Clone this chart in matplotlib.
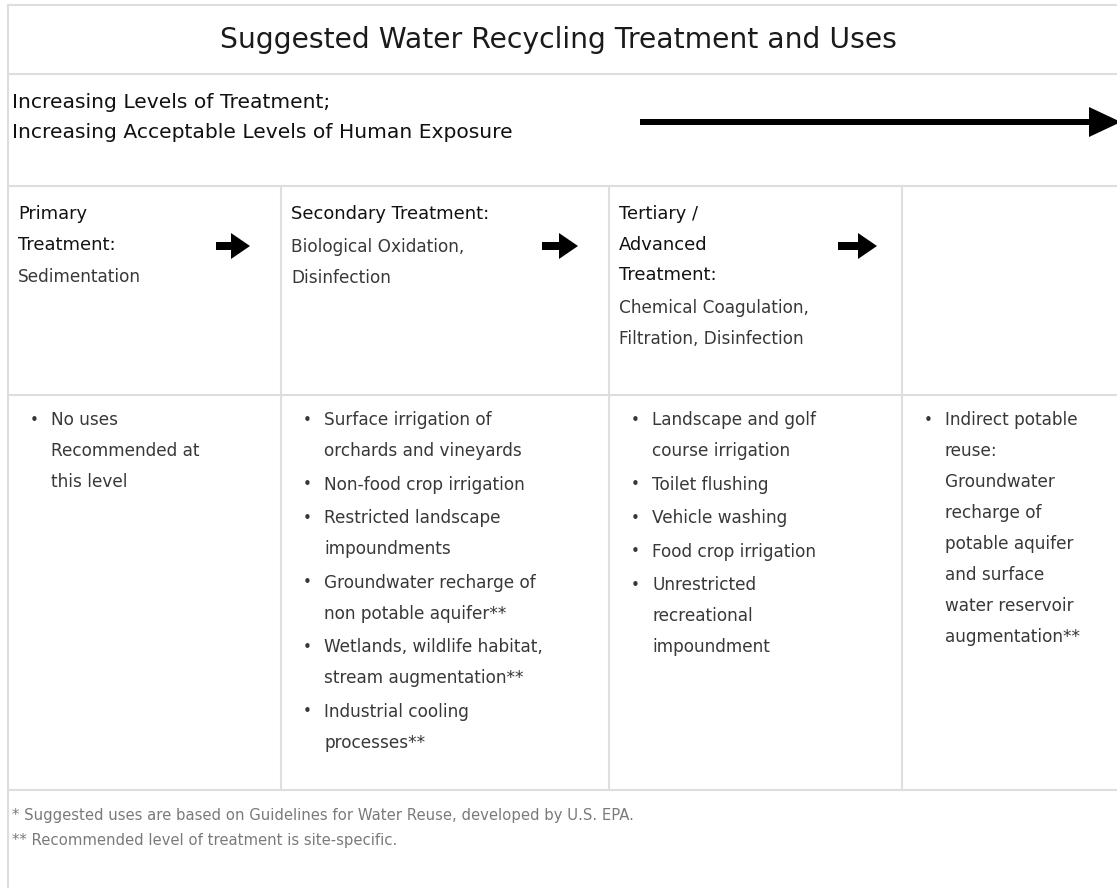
import matplotlib
matplotlib.use("Agg")
import matplotlib.pyplot as plt
from matplotlib.patches import FancyArrow

# ── content ────────────────────────────────────────────────────────────────────
title = "Suggested Water Recycling Treatment and Uses"
intro_lines = ["Increasing Levels of Treatment;",
               "Increasing Acceptable Levels of Human Exposure"]

stage_heads = [["Primary", "Treatment:"],
               ["Secondary Treatment:"],
               ["Tertiary /", "Advanced", "Treatment:"],
               []]
stage_methods = [["Sedimentation"],
                 ["Biological Oxidation,", "Disinfection"],
                 ["Chemical Coagulation,", "Filtration, Disinfection"],
                 []]

uses = [
    [["No uses", "Recommended at", "this level"]],
    [["Surface irrigation of", "orchards and vineyards"],
     ["Non-food crop irrigation"],
     ["Restricted landscape", "impoundments"],
     ["Groundwater recharge of", "non potable aquifer**"],
     ["Wetlands, wildlife habitat,", "stream augmentation**"],
     ["Industrial cooling", "processes**"]],
    [["Landscape and golf", "course irrigation"],
     ["Toilet flushing"],
     ["Vehicle washing"],
     ["Food crop irrigation"],
     ["Unrestricted", "recreational", "impoundment"]],
    [["Indirect potable", "reuse:", "Groundwater", "recharge of",
      "potable aquifer", "and surface", "water reservoir", "augmentation**"]],
]

footnotes = ["* Suggested uses are based on Guidelines for Water Reuse, developed by U.S. EPA.",
             "** Recommended level of treatment is site-specific."]

# ── layout (pixels) ────────────────────────────────────────────────────────────
W, H = 1117, 888
LINE_CLR = "#dedede"
HEAD_CLR = "#111111"
BODY_CLR = "#383838"
NOTE_CLR = "#7a7a7a"
col_x = [8, 281, 609, 902]
row_y = [5, 74, 186, 395, 790]

fig = plt.figure(figsize=(W / 100, H / 100), dpi=100)
ax = fig.add_axes([0, 0, 1, 1])
ax.set_xlim(0, W)
ax.set_ylim(H, 0)
ax.axis("off")
plt.rcParams["font.family"] = ["DejaVu Sans"]

# grid lines
for y in row_y:
    ax.plot([col_x[0], W], [y, y], color=LINE_CLR, lw=1.5, solid_capstyle="butt")
ax.plot([col_x[0], col_x[0]], [row_y[0], H], color=LINE_CLR, lw=1.5)
for x in col_x[1:]:
    ax.plot([x, x], [row_y[2], row_y[4]], color=LINE_CLR, lw=1.5)

# title and intro row
ax.text(558, 40, title, ha="center", va="center", fontsize=20.3, color="#1a1a1a")
for i, line in enumerate(intro_lines):
    ax.text(12, 103 + i * 30, line, ha="left", va="center", fontsize=14.6, color=HEAD_CLR)
ax.add_patch(FancyArrow(640, 122, W - 640 + 4, 0, width=6, head_width=30, head_length=32,
                        length_includes_head=True, color="black", lw=0))

# stage headers
for k, (heads, methods) in enumerate(zip(stage_heads, stage_methods)):
    x = col_x[k] + 10
    y = 214
    for line in heads:
        ax.text(x, y, line, ha="left", va="center", fontsize=12.9, color=HEAD_CLR)
        y += 30.5
    y += 2
    for line in methods:
        ax.text(x, y, line, ha="left", va="center", fontsize=12.2, color=BODY_CLR)
        y += 31

# small arrows between stages
for x0, x1 in [(216, 250), (542, 578), (838, 877)]:
    ax.add_patch(FancyArrow(x0, 246, x1 - x0, 0, width=8, head_width=26, head_length=19,
                            length_includes_head=True, color="black", lw=0))

# suggested uses
for k, items in enumerate(uses):
    bx = col_x[k] + 26
    tx = col_x[k] + 43
    y = 420
    for item in items:
        ax.text(bx, y, "\u2022", ha="center", va="center", fontsize=11, color=BODY_CLR)
        for line in item:
            ax.text(tx, y, line, ha="left", va="center", fontsize=12.2, color=BODY_CLR)
            y += 31
        y += 2.5

# footnotes
for i, note in enumerate(footnotes):
    ax.text(12, 815 + i * 25, note, ha="left", va="center", fontsize=10.7, color=NOTE_CLR)

fig.savefig("out.png", dpi=100, facecolor="white")
